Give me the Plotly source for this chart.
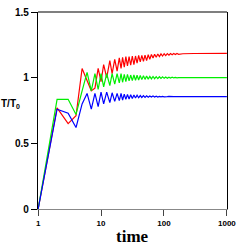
import plotly.graph_objects as go

time = [1, 2, 3, 4, 5, 6, 7, 8, 9, 10, 11,
        12.3, 13.8, 15, 16.5, 18,
        19.5, 20.8, 22, 23.4, 24.8, 26.3, 27.9, 29.6, 31.4, 33.3,
        35.3, 37.4, 39.6, 42, 44.5, 47.2, 50, 53, 56.2, 59.6,
        63.2, 67, 71, 75.3, 79.8, 84.6, 89.7, 95, 100.7, 106.7,
        113, 120, 127, 135, 143, 152, 161, 171,
        200, 300, 500, 1000]

red = [0, 0.77, 0.65, 0.71, 1.07, 0.97, 0.90, 0.92, 1.07, 0.97, 1.10,
       1.00, 1.13, 1.03, 1.14, 1.05,
       1.15, 1.07, 1.155, 1.08, 1.16, 1.09, 1.16, 1.095, 1.165, 1.10,
       1.165, 1.11, 1.17, 1.12, 1.17, 1.125, 1.172, 1.13, 1.175, 1.14,
       1.177, 1.15, 1.178, 1.155, 1.18, 1.16, 1.181, 1.165, 1.182, 1.168,
       1.183, 1.171, 1.184, 1.174, 1.184, 1.176, 1.184, 1.178,
       1.182, 1.184, 1.185, 1.185]

green = [0, 0.835, 0.835, 0.72, 0.90, 1.04, 0.90, 1.03, 0.91, 1.03, 0.93,
         1.03, 0.94, 1.03, 0.95, 1.03,
         0.96, 1.03, 0.965, 1.025, 0.97, 1.025, 0.975, 1.02, 0.978, 1.02,
         0.98, 1.018, 0.982, 1.016, 0.985, 1.014, 0.987, 1.012, 0.989, 1.01,
         0.991, 1.009, 0.992, 1.008, 0.993, 1.007, 0.994, 1.006, 0.995, 1.005,
         0.996, 1.004, 0.997, 1.003, 0.998, 1.002, 0.999, 1.001,
         1.0, 1.0, 1.0, 1.0]

blue = [0, 0.76, 0.73, 0.62, 0.80, 0.88, 0.76, 0.88, 0.78, 0.89, 0.80,
        0.89, 0.81, 0.885, 0.82, 0.88,
        0.825, 0.88, 0.83, 0.875, 0.835, 0.872, 0.838, 0.87, 0.842, 0.868,
        0.845, 0.866, 0.847, 0.864, 0.849, 0.863, 0.85, 0.862, 0.851, 0.861,
        0.852, 0.86, 0.853, 0.859, 0.853, 0.858, 0.854, 0.858, 0.854, 0.857,
        0.855, 0.857, 0.855, 0.856, 0.855, 0.856, 0.856, 0.856,
        0.856, 0.856, 0.856, 0.856]

x_ticks = [1, 10, 100, 1000]
x_tick_labels = ["1", "10", "100", "1000"]
y_ticks = [0, 0.5, 1, 1.5]
y_tick_labels = ["0", "0.5", "1", "1.5"]

fig = go.Figure()
for vals, col in [(red, "#ff0000"), (green, "#00ee00"), (blue, "#0000ff")]:
    fig.add_trace(go.Scatter(x=time, y=vals, mode="lines",
                             line=dict(color=col, width=1.2), showlegend=False))

fig.update_layout(
    width=242, height=249,
    margin=dict(l=38, r=10, t=6, b=40),
    paper_bgcolor="white", plot_bgcolor="white",
    xaxis=dict(type="log", range=[-0.002, 3.002], tickvals=x_ticks, ticktext=x_tick_labels,
               ticks="outside", ticklen=6, tickcolor="#444", tickwidth=1,
               showline=True, linecolor="#888", linewidth=1.2,
               showgrid=False, zeroline=False, ticklabeloverflow="allow",
               tickfont=dict(family="Liberation Sans, Arial", size=8, color="black",
                             weight="bold")),
    yaxis=dict(range=[0, 1.5], tickvals=y_ticks, ticktext=y_tick_labels,
               ticks="outside", ticklen=6, tickcolor="black", tickwidth=1,
               showline=True, linecolor="black", linewidth=1.2, mirror=True,
               showgrid=False, zeroline=False,
               tickfont=dict(family="Liberation Sans, Arial", size=10, color="black",
                             weight="bold")),
    shapes=[dict(type="line", xref="paper", yref="paper", x0=0, x1=1, y0=1, y1=1,
                 line=dict(color="black", width=1.2))],
    annotations=[
        dict(text="time", xref="paper", yref="paper", x=0.5, y=-0.14, xanchor="center",
             yanchor="middle", showarrow=False,
             font=dict(family="Liberation Serif, Times New Roman", size=17, color="black",
                       weight="bold")),
        dict(text="T/T<sub>0</sub>", xref="paper", yref="y", x=-0.205, y=0.8,
             xanchor="left", yanchor="middle", showarrow=False,
             font=dict(family="Liberation Sans, Arial", size=10, color="black",
                       weight="bold")),
    ],
)

fig.write_html("out.html", config={"displayModeBar": False},
               post_script="document.body.style.margin='0';document.body.style.overflow='hidden';")
